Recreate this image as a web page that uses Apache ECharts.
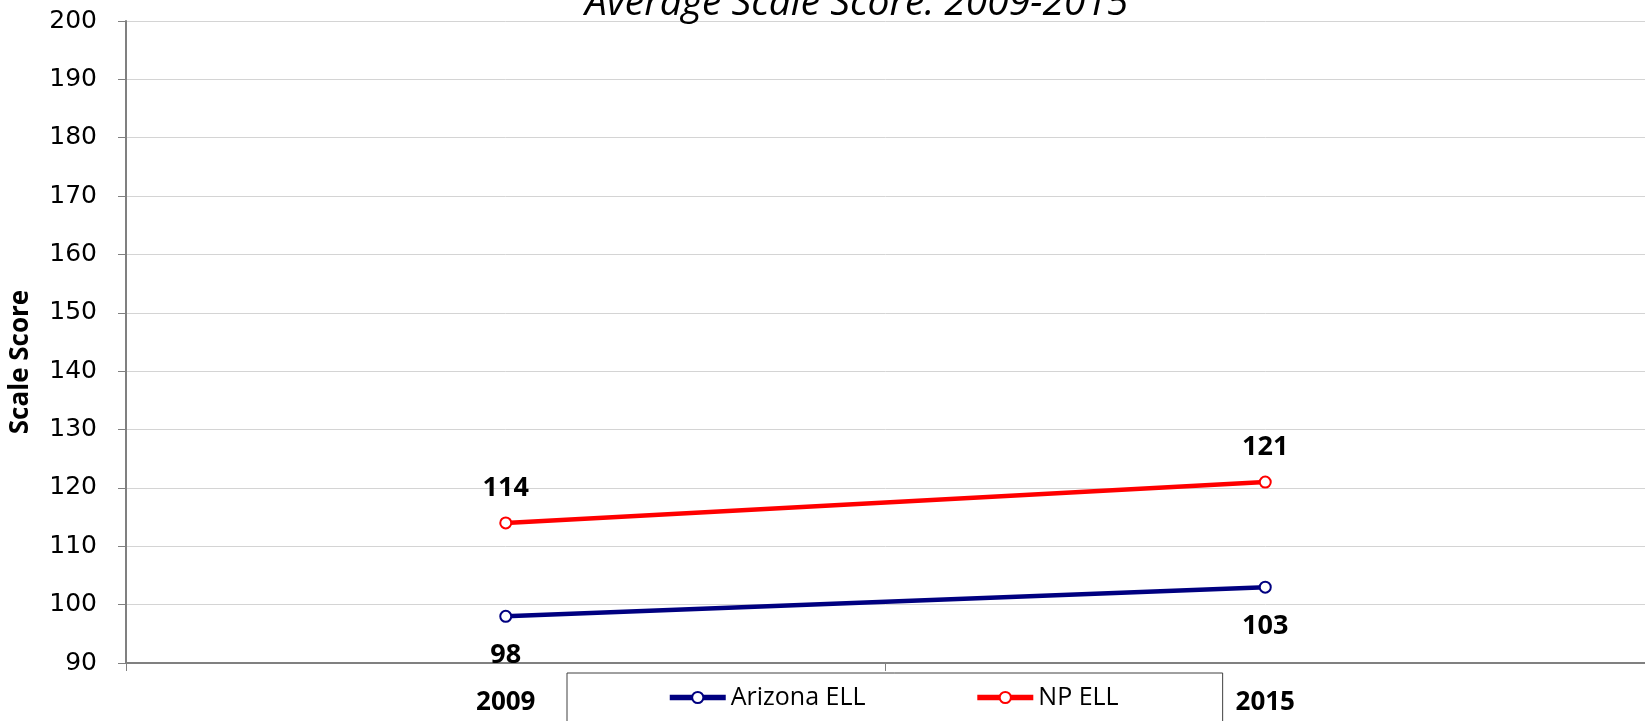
<!DOCTYPE html>
<html>
<head>
<meta charset="utf-8">
<script src="https://cdn.jsdelivr.net/npm/echarts@6/dist/echarts.min.js"></script>
<style>
  html, body { margin: 0; padding: 0; background: #fff; }
  #chart { width: 1645px; height: 721px; }
</style>
</head>
<body>
<div id="chart"></div>
<script>
const years = ['2009', '2015']
const arizonaEll = [98, 103]
const npEll = [114, 121]
const yTicks = { min: 90, max: 200, interval: 10 }

const myChart = echarts.init(document.getElementById('chart'))

const labelFont = {
  fontFamily: 'Open Sans',
  fontWeight: 'bold',
  fontSize: 27,
  color: '#000',
}

const option = {
  backgroundColor: '#fff',
  animation: false,
  title: {
    text: 'Average Scale Score: 2009-2015',
    left: 585,
    top: -16,
    padding: 0,
    textStyle: {
      fontFamily: 'Open Sans',
      fontStyle: 'italic',
      fontWeight: 'normal',
      fontSize: 39,
      color: '#000',
    },
  },
  legend: {
    left: 567,
    top: 673,
    padding: [12, 104, 30, 100],
    itemGap: 109,
    itemWidth: 56,
    itemHeight: 14,
    borderColor: '#404040',
    borderWidth: 1,
    lineStyle: { width: 5.5 },
    textStyle: {
      fontFamily: 'Open Sans',
      fontSize: 25,
      color: '#000',
    },
    data: ['Arizona ELL', 'NP ELL'],
  },
  grid: {
    left: 126,
    right: 0,
    top: 21,
    bottom: 58,
    outerBoundsMode: 'none',
  },
  xAxis: {
    type: 'category',
    data: years,
    boundaryGap: true,
    axisLine: { lineStyle: { color: '#808080', width: 2 } },
    axisTick: { show: true, length: 8, lineStyle: { color: '#808080', width: 1 } },
    axisLabel: { ...labelFont, fontSize: 26, margin: 27 },
  },
  yAxis: {
    type: 'value',
    min: yTicks.min,
    max: yTicks.max,
    interval: yTicks.interval,
    name: 'Scale Score',
    nameLocation: 'middle',
    nameGap: 92,
    nameTextStyle: {
      fontFamily: 'Open Sans',
      fontWeight: 'bold',
      fontSize: 26,
      color: '#000',
      padding: [0, 40, 0, 0], // pushes the rotated name a little lower
    },
    axisLine: { show: true, lineStyle: { color: '#808080', width: 2 } },
    axisTick: { show: true, length: 8, lineStyle: { color: '#808080', width: 1 } },
    axisLabel: {
      fontFamily: 'DejaVu Sans',
      fontSize: 25,
      color: '#000',
      margin: 29,
    },
    splitLine: { show: true, lineStyle: { color: '#d4d4d4', width: 1 } },
  },
  series: [
    {
      name: 'Arizona ELL',
      type: 'line',
      data: arizonaEll,
      symbol: 'circle',
      symbolSize: 11,
      lineStyle: { color: '#000080', width: 4.5 },
      itemStyle: { color: '#fff', borderColor: '#000080', borderWidth: 2 },
      label: { show: true, position: 'bottom', distance: 19, ...labelFont },
      z: 2,
    },
    {
      name: 'NP ELL',
      type: 'line',
      data: npEll,
      symbol: 'circle',
      symbolSize: 11,
      lineStyle: { color: '#ff0000', width: 4.5 },
      itemStyle: { color: '#fff', borderColor: '#ff0000', borderWidth: 2 },
      label: { show: true, position: 'top', distance: 15, ...labelFont },
      z: 3,
    },
  ],
}

myChart.setOption(option)

window.addEventListener('resize', () => {
  myChart.resize()
})
</script>
</body>
</html>
